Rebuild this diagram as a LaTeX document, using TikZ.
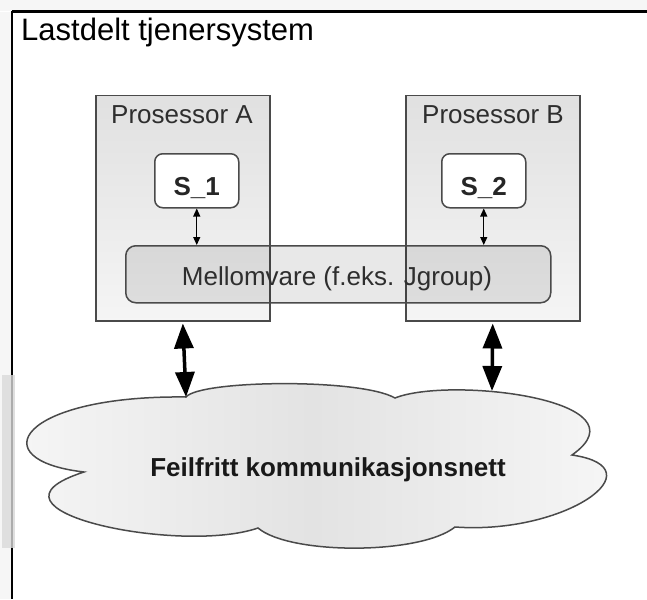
\documentclass[tikz,border=0pt]{standalone}
\usepackage{fontspec}
\setmainfont{Liberation Sans}
\usetikzlibrary{arrows.meta}
\definecolor{edge}{HTML}{4A4A4A}
\definecolor{labeltext}{HTML}{2E2E2E}
\begin{document}
\begin{tikzpicture}[x=1pt,y=-1pt,
  procbox/.style={draw=edge, line width=1.5pt, top color=gray!24, bottom color=gray!8, inner sep=0pt},
  svcbox/.style={draw=edge, line width=1.5pt, fill=white, rounded corners=8pt, inner sep=0pt},
  midbox/.style={draw=edge, line width=1.5pt, rounded corners=10pt, fill=black, fill opacity=0.09, inner sep=0pt},
  biglink/.style={line width=3.5pt, {Triangle[length=25pt,width=19pt]}-{Triangle[length=25pt,width=19pt]}},
  smalllink/.style={line width=1.2pt, {Triangle[length=8pt,width=7pt]}-{Triangle[length=8pt,width=7pt]}},
  lbl/.style={font=\fontsize{26}{30}\selectfont, text=labeltext, inner sep=0pt, anchor=base},
  lblbold/.style={font=\fontsize{26}{30}\selectfont\bfseries, text=black!85, inner sep=0pt, anchor=base},
  cloudshape/.style={draw=edge, line width=1.5pt, left color=gray!5, right color=gray!5, middle color=gray!22},
]
\useasboundingbox (0,0) rectangle (647,599);
% faint page edges
\fill[gray!7] (0,0) rectangle (647,11);
\fill[gray!7] (0,12) rectangle (11,599);
\fill[gray!25] (2,375) rectangle (15,548);
% frame
\draw[line width=3pt] (12,12) -- (647,12);
\draw[line width=2pt] (12,11) -- (12,375);
\draw[line width=2pt] (12,548) -- (12,599);
\draw[line width=2pt, gray!65] (12,375) -- (12,548);

\node[font=\fontsize{31}{36}\selectfont, anchor=base west, inner sep=0pt] (title) at (21,41) {Lastdelt tjenersystem};

% processors
\node[procbox, minimum width=174pt, minimum height=225pt, anchor=north west] (procA) at (95,95) {};
\node[procbox, minimum width=174pt, minimum height=225pt, anchor=north west] (procB) at (405,95) {};
\node[lbl] (procAlbl) at (182,123) {Prosessor A};
\node[lbl] (procBlbl) at (493,123) {Prosessor B};

% services
\node[svcbox, minimum width=84pt, minimum height=54pt, anchor=north west] (s1) at (154,153) {};
\node[svcbox, minimum width=84pt, minimum height=54pt, anchor=north west] (s2) at (441,153) {};
\node[lblbold] (s1lbl) at (s1.center |- 0,195) {S\_1};
\node[lblbold] (s2lbl) at (s2.center |- 0,195) {S\_2};

% middleware
\node[midbox, minimum width=425pt, minimum height=57pt, anchor=north west] (mw) at (125,245) {};
\node[lbl] (mwlbl) at (337,285) {Mellomvare (f.eks. Jgroup)};

\draw[smalllink] (s1.south) -- (s1.south |- mw.north);
\draw[smalllink] (s2.south) -- (s2.south |- mw.north);

% cloud
\path[cloudshape] (84,472) .. controls (-20,460) and (20,395) .. (186,397)
  .. controls (200,380) and (360,378) .. (395,398)
  .. controls (450,376) and (650,400) .. (572,455)
  .. controls (660,468) and (565,535) .. (455,527)
  .. controls (420,555) and (290,555) .. (258,528)
  .. controls (180,555) and (-35,510) .. cycle;
\coordinate (cloudA) at (186,397);
\coordinate (cloudB) at (492,391);
\node[lblbold, text=black!90] (net) at (328,476) {Feilfritt kommunikasjonsnett};

\draw[biglink, shorten <=2pt] (procA.south) -- (cloudA);
\draw[biglink, shorten <=2pt] (procB.south) -- (cloudB);
\end{tikzpicture}
\end{document}
